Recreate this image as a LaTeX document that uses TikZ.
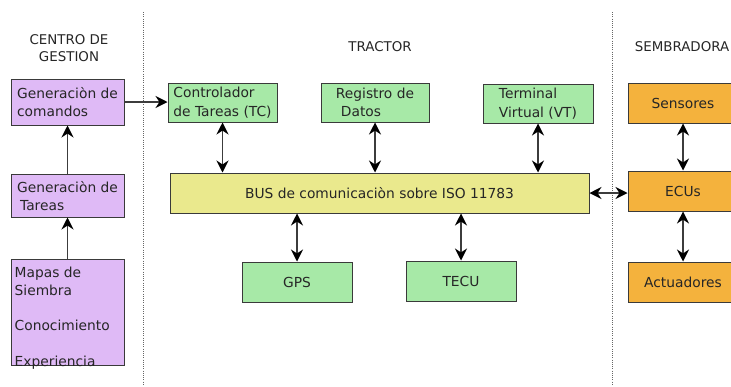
\documentclass[tikz,border=0pt]{standalone}
\usepackage{fontspec}
\setmainfont{DejaVu Sans}
\usetikzlibrary{arrows.meta}
\definecolor{lila}{HTML}{DFBAF6}
\definecolor{verde}{HTML}{A7E9A7}
\definecolor{amarillo}{HTML}{EAE98D}
\definecolor{naranja}{HTML}{F4B23D}
\definecolor{borde}{HTML}{3A3A3A}
\definecolor{texto}{HTML}{262626}
\definecolor{linea}{HTML}{3C3C3C}
\tikzset{
  box/.style={draw=borde, line width=1pt, inner sep=0pt, text=texto,
    font=\fontsize{13.8}{18.5}\selectfont, align=left},
  lila box/.style={box, fill=lila},
  verde box/.style={box, fill=verde},
  amarillo box/.style={box, fill=amarillo},
  naranja box/.style={box, fill=naranja},
  punta/.tip={Stealth[length=12pt,width=12pt,inset=4pt,color=black]},
  flecha/.style={draw=linea, line width=1.1pt, -punta},
  dflecha/.style={draw=linea, line width=1.1pt, punta-punta},
  separador/.style={draw=gray!80!black, line width=0.8pt, dash pattern=on 1pt off 1.2pt},
  titulo/.style={text=texto, font=\fontsize{13.4}{17}\selectfont, align=center},
}
\begin{document}
\begin{tikzpicture}[x=1pt,y=-1pt]
\useasboundingbox (0,0) rectangle (731,386);
\clip (0,0) rectangle (731,386);
\fill[white] (0,0) rectangle (731,386);

% separators
\coordinate (s1a) at (143,12);
\coordinate (s1b) at (143,386);
\coordinate (s2a) at (612,12);
\coordinate (s2b) at (612,386);
\draw[separador] (s1a) -- (s1b);
\draw[separador] (s2a) -- (s2b);

% titles
\node[titulo] (tcg) at (69,48.5) {CENTRO DE\\GESTION};
\node[titulo] (ttr) at (380,47) {TRACTOR};
\node[titulo] (tse) at (682,47) {SEMBRADORA};

% left column
\node[lila box, minimum width=113pt, minimum height=46pt] (gcom) at (67.5,102) {Generaciòn de\\comandos};
\node[lila box, minimum width=113pt, minimum height=43pt] (gtar) at (67.5,195.5) {\rule{0pt}{12pt}Generaciòn de\\\hspace*{3pt}Tareas};
\node[lila box, minimum width=113pt, minimum height=106pt] (mapas) at (67.5,312) {};
\node[text=texto, font=\fontsize{13.8}{17.7}\selectfont, align=left, anchor=north west, inner sep=0pt] (mapastxt) at (14.5,267) {Mapas de\\Siembra\\[17.7pt]Conocimiento\\[17.7pt]Experiencia};

% tractor
\node[verde box, minimum width=109pt, minimum height=39pt] (tc) at (222.5,102.5) {Controlador\\de Tareas (TC)};
\node[verde box, minimum width=108pt, minimum height=39pt] (reg) at (375,102.5) {Registro de\\\hspace*{5pt}Datos};
\node[verde box, minimum width=110pt, minimum height=39pt] (vt) at (538,103.5) {Terminal\\Virtual (VT)};
\node[amarillo box, minimum width=419pt, minimum height=40pt] (bus) at (379.5,193) {BUS de comunicaciòn sobre ISO 11783};
\node[verde box, minimum width=110pt, minimum height=40pt] (gps) at (297,282) {GPS};
\node[verde box, minimum width=110pt, minimum height=40pt] (tecu) at (461,281) {TECU};

% sembradora
\node[naranja box, minimum width=110pt, minimum height=40pt] (sens) at (683,103) {Sensores};
\node[naranja box, minimum width=110pt, minimum height=40pt] (ecu) at (683,191) {ECUs};
\node[naranja box, minimum width=110pt, minimum height=40pt] (act) at (683,282) {Actuadores};

% connectors
\draw[flecha] (mapas.north) -- (gtar.south);
\draw[flecha] (gtar.north) -- (gcom.south);
\draw[flecha] (gcom.east) -- (gcom.east -| tc.west);
\draw[dflecha] (tc.south) -- (tc.south |- bus.north);
\draw[dflecha] (reg.south) -- (reg.south |- bus.north);
\draw[dflecha] (vt.south) -- (vt.south |- bus.north);
\draw[dflecha] (bus.south -| gps.north) -- (gps.north);
\draw[dflecha] (bus.south -| tecu.north) -- (tecu.north);
\draw[dflecha] (bus.east) -- (bus.east -| ecu.west);
\draw[dflecha] (sens.south) -- (ecu.north);
\draw[dflecha] (ecu.south) -- (act.north);
\end{tikzpicture}
\end{document}
